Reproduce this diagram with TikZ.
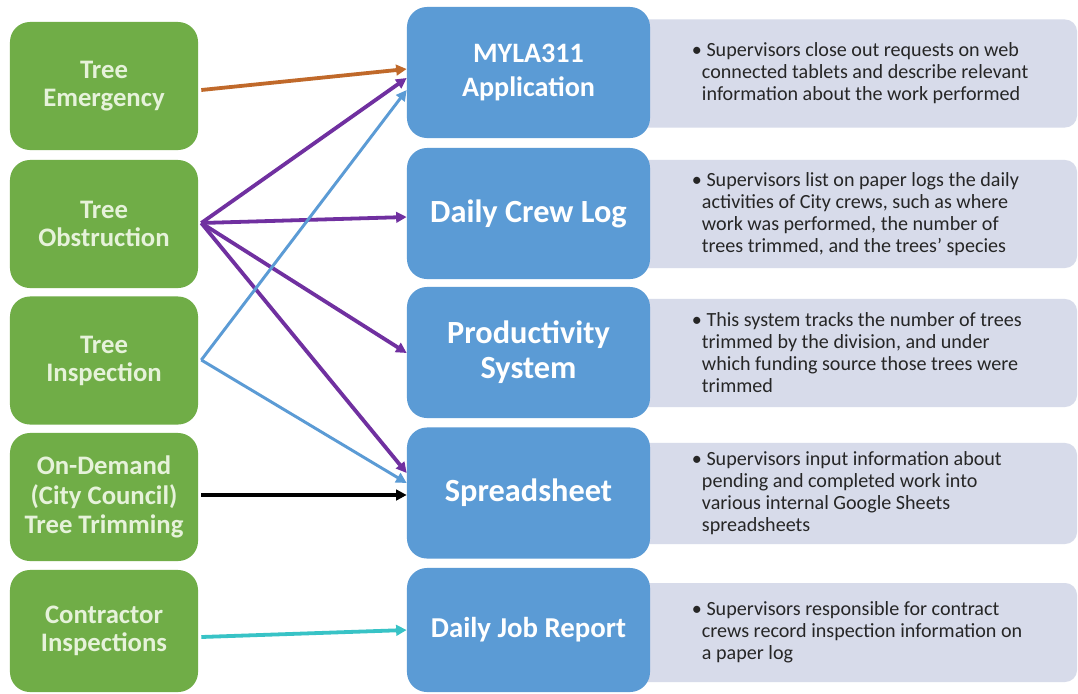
\documentclass[tikz,border=0pt]{standalone}
\usepackage{fontspec}
\setmainfont{Carlito}
\usetikzlibrary{arrows.meta, calc}
\definecolor{leafgreen}{HTML}{70AD47}
\definecolor{leaftext}{HTML}{E6F2DA}
\definecolor{sysblue}{HTML}{5B9BD5}
\definecolor{notegray}{HTML}{D7DBEA}
\definecolor{noteink}{HTML}{262626}
\definecolor{emergorange}{HTML}{C0692A}
\definecolor{obstpurple}{HTML}{7030A0}
\definecolor{inspblue}{HTML}{5B9BD5}
\definecolor{contcyan}{HTML}{38C3C6}

\newcommand{\bulletpad}{\phantom{\textbullet}}

\tikzset{
  source/.style={fill=leafgreen, rounded corners=0.5cm, minimum width=4.7cm, minimum height=3.2cm,
    inner sep=0pt, align=center, text=leaftext, font=\fontsize{19}{20}\selectfont\bfseries},
  system/.style={fill=sysblue, rounded corners=0.5cm, minimum width=6.075cm, minimum height=3.275cm,
    inner sep=0pt, align=center, text=white, font=\fontsize{23}{25}\selectfont\bfseries},
  note/.style={fill=notegray, rounded corners=0.3cm, minimum width=11.675cm, minimum height=2.7cm, inner sep=0pt},
  notetext/.style={anchor=west, inner sep=0pt, align=left, text=noteink, font=\fontsize{14.3}{15.65}\selectfont},
  feed/.style={line width=2.7pt, -{Triangle[length=7.5pt, width=7.5pt]}}
}

\begin{document}
\begin{tikzpicture}[x=0.025cm, y=-0.025cm]
  \useasboundingbox (0,0) rectangle (1078,693);
  \fill[white] (0,0) rectangle (1078,693);

  % Description panels (behind the system boxes)
  \node[note] (n1) at (843.5, 73.5) {};
  \node[note] (n2) at (843.5, 214) {};
  \node[note] (n3) at (843.5, 353) {};
  \node[note, minimum height=2.525cm] (n4) at (843.5, 493.5) {};
  \node[note, minimum height=2.475cm] (n5) at (843.5, 632.5) {};

  \node[notetext] (t1) at ($(n1.west)+(82,0)$) {\textbullet\ Supervisors close out requests on web\\ \bulletpad connected tablets and describe relevant\\ \bulletpad information about the work performed};
  \node[notetext] (t2) at ($(n2.west)+(82,0)$) {\textbullet\ Supervisors list on paper logs the daily\\ \bulletpad activities of City crews, such as where\\ \bulletpad work was performed, the number of\\ \bulletpad trees trimmed, and the trees' species};
  \node[notetext] (t3) at ($(n3.west)+(82,0)$) {\textbullet\ This system tracks the number of trees\\ \bulletpad trimmed by the division, and under\\ \bulletpad which funding source those trees were\\ \bulletpad trimmed};
  \node[notetext] (t4) at ($(n4.west)+(82,0)$) {\textbullet\ Supervisors input information about\\ \bulletpad pending and completed work into\\ \bulletpad various internal Google Sheets\\ \bulletpad spreadsheets};
  \node[notetext] (t5) at ($(n5.west)+(82,0)$) {\textbullet\ Supervisors responsible for contract\\ \bulletpad crews record inspection information on\\ \bulletpad a paper log};

  % Request sources
  \node[source] (emerg) at (104, 86) {Tree\\Emergency};
  \node[source] (obst) at (104, 224) {Tree\\Obstruction};
  \node[source] (insp) at (104, 360.5) {Tree\\Inspection};
  \node[source, font=\fontsize{19}{21}\selectfont\bfseries] (trim) at (104, 497) {On-Demand\\(City Council)\\Tree Trimming};
  \node[source, minimum height=3.05cm] (cont) at (104, 631) {Contractor\\Inspections};

  % Tracking systems
  \node[system, font=\fontsize{20}{23.5}\selectfont\bfseries] (myla) at (528.5, 72.5) {MYLA311\\Application};
  \node[system] (crew) at (528.5, 213.5) {Daily Crew Log};
  \node[system] (prod) at (528.5, 352.5) {Productivity\\System};
  \node[system] (sheet) at (528.5, 493) {Spreadsheet};
  \node[system, minimum height=3.1cm, font=\fontsize{20.5}{22}\selectfont\bfseries] (job) at (528.5, 630) {Daily Job Report};

  % Obstruction feeds
  \draw[feed, obstpurple] ($(obst.east)+(3,-1)$) -- ($(myla.west)+(0,5.5)$);
  \draw[feed, obstpurple] ($(obst.east)+(3,-1)$) -- ($(crew.west)+(0,3.5)$);
  \draw[feed, obstpurple] ($(obst.east)+(3,-1)$) -- ($(prod.west)+(0,0.5)$);
  \draw[feed, obstpurple] ($(obst.east)+(3,-1)$) -- ($(sheet.west)+(0,-20)$);

  % Inspection feeds
  \draw[feed, inspblue, line width=2.1pt] ($(insp.east)+(3,-0.5)$) -- ($(myla.west)+(0,17.5)$);
  \draw[feed, inspblue, line width=2.1pt] ($(insp.east)+(3,-0.5)$) -- ($(sheet.west)+(0,-10)$);

  % Single feeds
  \draw[feed, emergorange] ($(emerg.east)+(3,4)$) -- ($(myla.west)+(0,-3.5)$);
  \draw[feed, black] ($(trim.east)+(3,-2)$) -- ($(sheet.west)+(0,2)$);
  \draw[feed, contcyan] ($(cont.east)+(3,6)$) -- ($(job.west)+(0,0)$);
\end{tikzpicture}
\end{document}
